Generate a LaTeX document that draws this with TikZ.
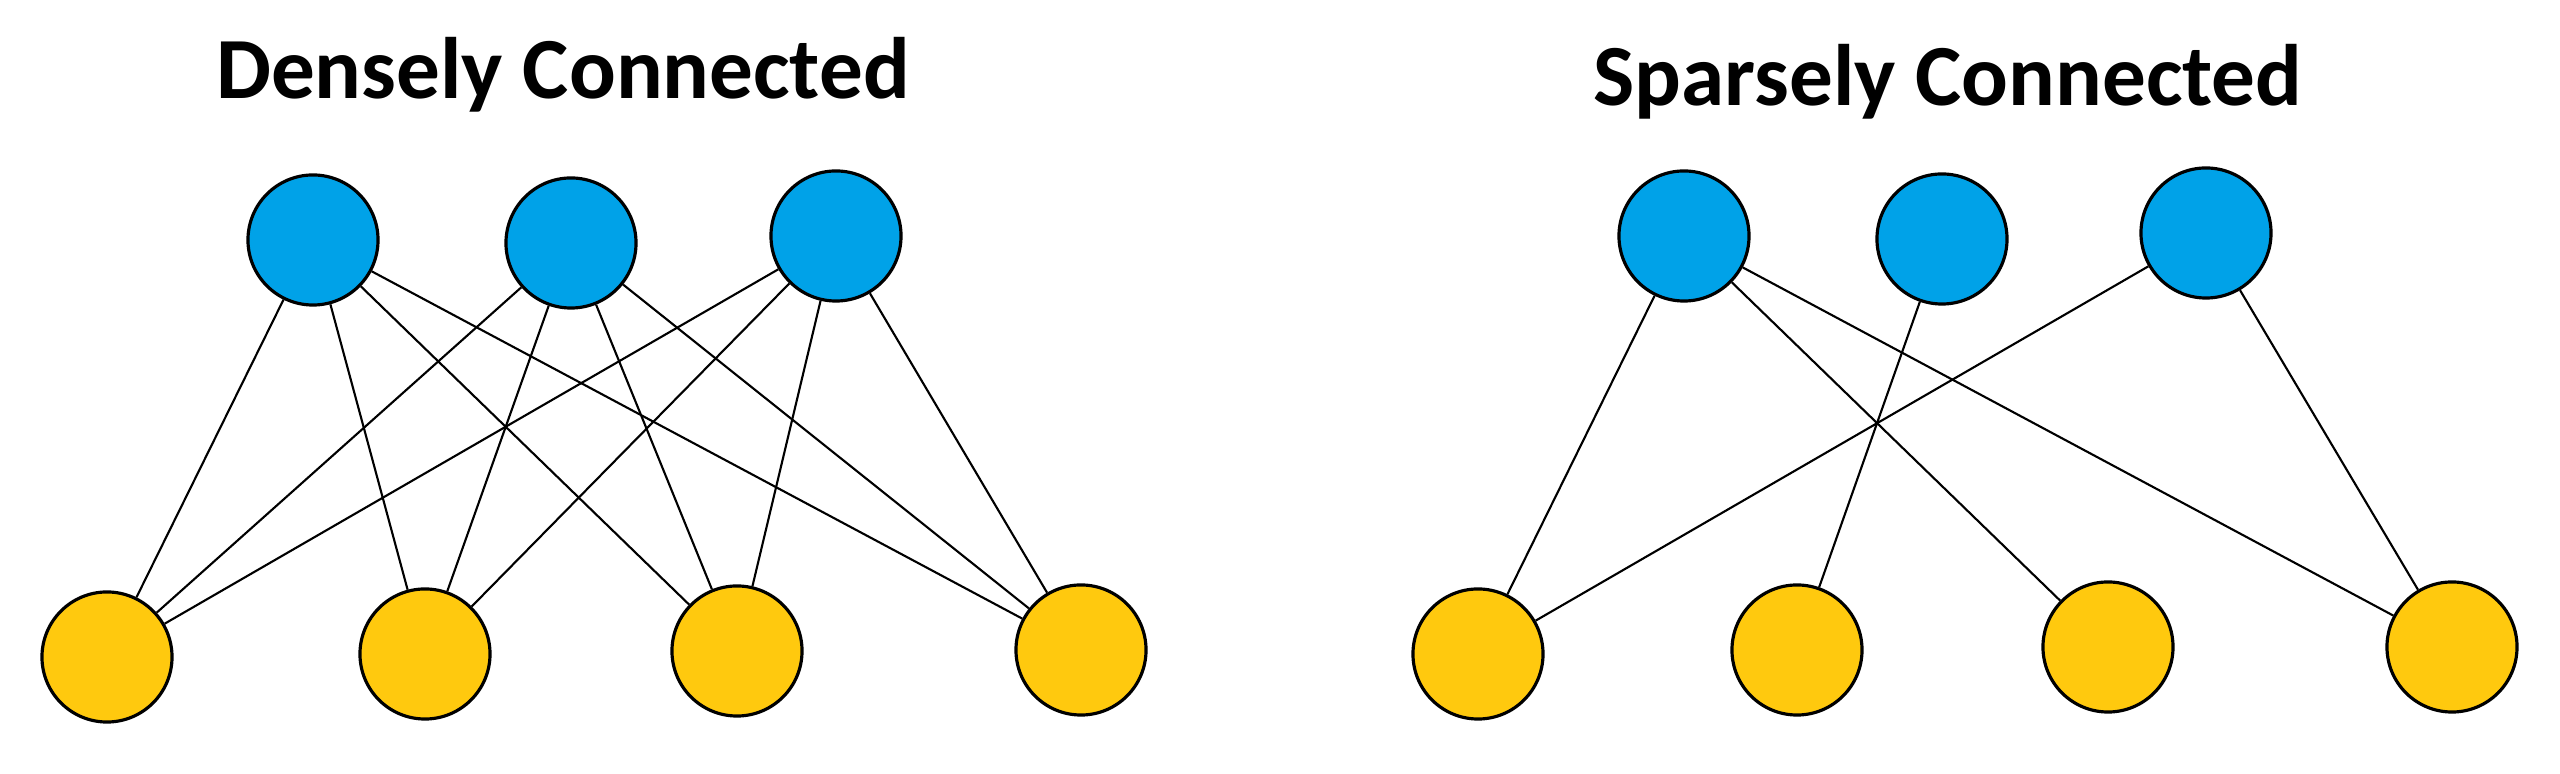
\documentclass[tikz,border=0pt]{standalone}
\usepackage{fontspec}
\setmainfont{Carlito}
\definecolor{nodeblue}{RGB}{0,162,232}
\definecolor{nodegold}{RGB}{255,201,14}
\begin{document}
\begin{tikzpicture}[x=0.01cm,y=-0.01cm,
  topnode/.style={circle,draw=black,line width=0.9pt,fill=nodeblue,minimum size=1.3cm,inner sep=0pt},
  botnode/.style={circle,draw=black,line width=0.9pt,fill=nodegold,minimum size=1.3cm,inner sep=0pt},
  edge/.style={draw=black,line width=0.6pt},
  title/.style={anchor=base,font=\bfseries\fontsize{24.8pt}{30pt}\selectfont}]
\useasboundingbox[fill=white] (0,0) rectangle (2560,774);
% titles
\node[title] (t1) at (563,99) {Densely Connected};
\node[title] (t2) at (1948,106) {Sparsely Connected};
% dense
\node[topnode] (a1) at (313,240) {};
\node[topnode] (a2) at (571,243) {};
\node[topnode] (a3) at (836,236) {};
\node[botnode] (b1) at (107,657) {};
\node[botnode] (b2) at (425,654) {};
\node[botnode] (b3) at (737,651) {};
\node[botnode] (b4) at (1081,650) {};
% sparse
\node[topnode] (c1) at (1684,236) {};
\node[topnode] (c2) at (1942,239) {};
\node[topnode] (c3) at (2206,233) {};
\node[botnode] (d1) at (1478,654) {};
\node[botnode] (d2) at (1797,650) {};
\node[botnode] (d3) at (2108,647) {};
\node[botnode] (d4) at (2452,647) {};
% dense connectors: every top node to every bottom node
\foreach \a in {a1,a2,a3}{
  \foreach \b in {b1,b2,b3,b4}{
    \path[edge] (\a) -- (\b);
  }
}
% sparse connectors
\path[edge] (c1) -- (d1);
\path[edge] (c1) -- (d3);
\path[edge] (c1) -- (d4);
\path[edge] (c2) -- (d2);
\path[edge] (c3) -- (d1);
\path[edge] (c3) -- (d4);
\end{tikzpicture}
\end{document}
